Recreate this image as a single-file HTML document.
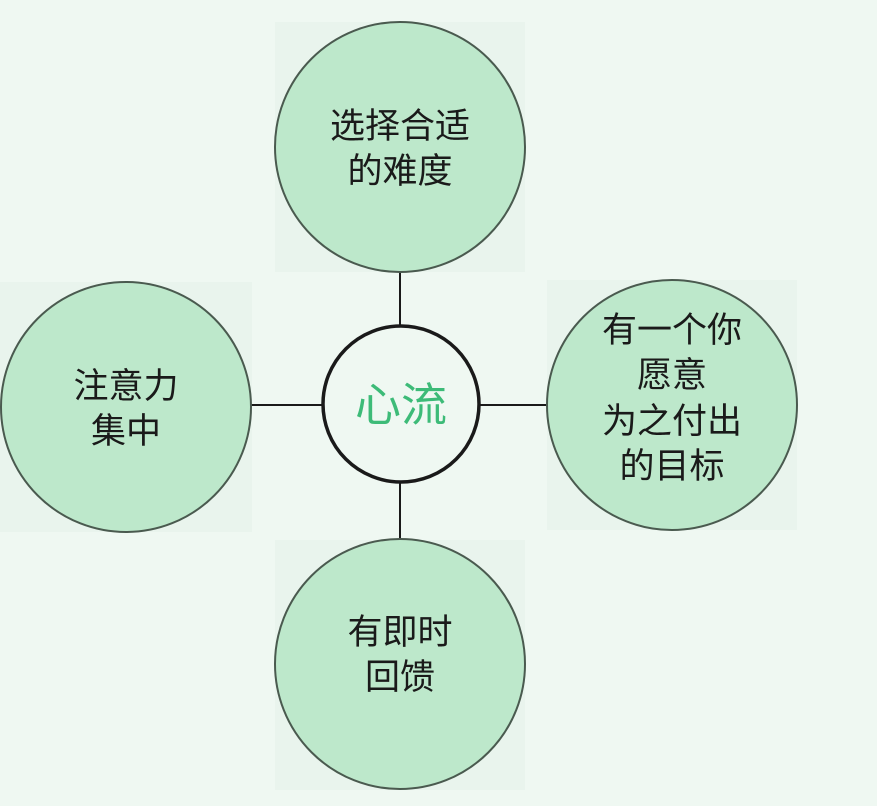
<!DOCTYPE html>
<html><head><meta charset="utf-8"><style>
html,body{margin:0;padding:0;background:#eff8f2;}
svg{display:block;}
text{font-family:"Liberation Sans","Noto Sans CJK SC",sans-serif;fill:#1a1a1a;font-size:35px;text-anchor:middle;}
</style></head><body>
<svg width="877" height="806" viewBox="0 0 877 806">
<rect width="877" height="806" fill="#eff8f2"/>
<g fill="#e9f4ed">
<rect x="275" y="22" width="250" height="250"/>
<rect x="0" y="282" width="252" height="250"/>
<rect x="547" y="280" width="250" height="250"/>
<rect x="275" y="540" width="250" height="250"/>
</g>
<g stroke="#1a1a1a" stroke-width="2">
<line x1="400" y1="272" x2="400" y2="326"/>
<line x1="400" y1="482" x2="400" y2="538"/>
<line x1="251" y1="405" x2="322" y2="405"/>
<line x1="480" y1="405" x2="547" y2="405"/>
</g>
<g fill="#bde8cb" stroke="#4a5a4f" stroke-width="2">
<circle cx="400" cy="147" r="125"/>
<circle cx="126" cy="407" r="125"/>
<circle cx="672" cy="405" r="125"/>
<circle cx="400" cy="664" r="125"/>
</g>
<circle cx="401" cy="404" r="78" fill="#eff8f2" stroke="#1a1a1a" stroke-width="3.5"/>
<text x="401" y="421" style="fill:#3dbb78;font-size:46px">心流</text>
<text x="400" y="138">选择合适</text>
<text x="400" y="183">的难度</text>
<text x="126" y="398">注意力</text>
<text x="126" y="443">集中</text>
<text x="672" y="342">有一个你</text>
<text x="672" y="387">愿意</text>
<text x="672" y="433">为之付出</text>
<text x="672" y="478">的目标</text>
<text x="400" y="644">有即时</text>
<text x="400" y="689">回馈</text>
</svg>
</body></html>
